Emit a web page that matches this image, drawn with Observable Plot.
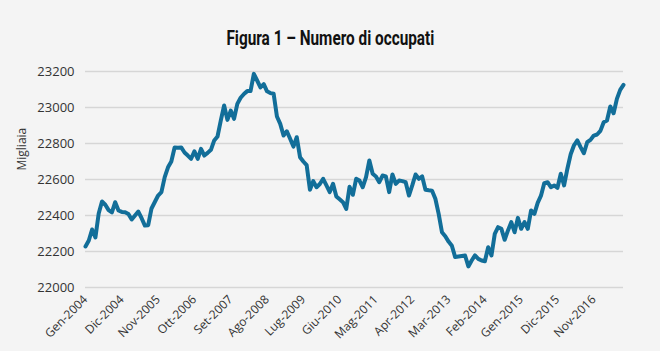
<!DOCTYPE html>
<html>
<head>
<meta charset="utf-8">
<script src="https://cdn.jsdelivr.net/npm/d3@7"></script>
<script src="https://cdn.jsdelivr.net/npm/@observablehq/plot@0.6"></script>
<style>
  html, body { margin: 0; padding: 0; background: #f4f4f4; }
  #wrap { position: relative; width: 660px; height: 351px; background: #f4f4f4; overflow: hidden; }
  #title { position: absolute; left: 0; top: 26px; width: 660px; text-align: center; height: 24px; }
  #title span { display: inline-block; font-family: Roboto, "DejaVu Sans", sans-serif; font-weight: 700; font-size: 21px; line-height: 24px; color: #111; transform: scaleX(0.73); transform-origin: center; white-space: nowrap; }
  #chart { position: absolute; left: 0; top: 50px; }
</style>
</head>
<body>
<div id="wrap">
  <div id="title"><span>Figura 1 – Numero di occupati</span></div>
  <div id="chart"></div>
</div>
<script>
const monthNames = ["Gen","Feb","Mar","Apr","Mag","Giu","Lug","Ago","Set","Ott","Nov","Dic"];
const startYear = 2004;
const occupati = [
  22228, 22261, 22322, 22278, 22411, 22478, 22460, 22430, 22417, 22474,
  22428, 22420, 22418, 22408, 22378, 22400, 22422, 22385, 22344, 22346,
  22439, 22475, 22511, 22530, 22613, 22668, 22700, 22778, 22776, 22778,
  22750, 22733, 22715, 22757, 22715, 22770, 22733, 22748, 22765, 22817,
  22839, 22928, 23011, 22931, 22983, 22937, 23020, 23054, 23075, 23091,
  23091, 23187, 23150, 23112, 23130, 23090, 23080, 23076, 22950, 22909,
  22844, 22868, 22826, 22783, 22835, 22724, 22700, 22680, 22543, 22591,
  22557, 22575, 22604, 22567, 22530, 22576, 22506, 22490, 22474, 22437,
  22560, 22515, 22604, 22594, 22557, 22613, 22706, 22632, 22617, 22585,
  22622, 22617, 22530, 22628, 22576, 22594, 22591, 22585, 22511, 22567,
  22628, 22604, 22617, 22543, 22540, 22538, 22493, 22409, 22307, 22285,
  22255, 22232, 22169, 22172, 22175, 22178, 22117, 22150, 22178, 22159,
  22150, 22146, 22224, 22178, 22298, 22335, 22326, 22265, 22317, 22363,
  22307, 22387, 22326, 22363, 22326, 22428, 22409, 22470, 22510, 22580,
  22585, 22557, 22567, 22554, 22632, 22567, 22660, 22740, 22790, 22817,
  22780, 22746, 22807, 22820, 22844, 22850, 22870, 22918, 22928, 23006,
  22968, 23048, 23098, 23126
];
const months = occupati.map((_, i) => monthNames[i % 12] + "-" + (startYear + Math.floor(i / 12)));
const xTickLabels = ["Gen-2004","Dic-2004","Nov-2005","Ott-2006","Set-2007","Ago-2008","Lug-2009","Giu-2010","Mag-2011","Apr-2012","Mar-2013","Feb-2014","Gen-2015","Dic-2015","Nov-2016"];
const yTicks = [22000, 22200, 22400, 22600, 22800, 23000, 23200];
const yLabel = "Migliaia";

const data = months.map((m, i) => ({mese: m, valore: occupati[i]}));

const chart = Plot.plot({
  width: 660,
  height: 301,
  marginLeft: 85,
  marginRight: 37,
  marginTop: 21,
  marginBottom: 64,
  style: {background: "#f4f4f4", fontFamily: "'Open Sans', sans-serif", fontSize: "13px", color: "#333"},
  x: {type: "point", domain: months, padding: 0},
  y: {domain: [22000, 23200]},
  marks: [
    Plot.ruleY(yTicks, {stroke: "#d6d6d6", strokeWidth: 1.5}),
    Plot.axisY(yTicks, {tickSize: 0, tickPadding: 11, tickFormat: d => String(d), label: null, fontSize: 13, fill: "#333"}),
    Plot.axisX(xTickLabels, {tickSize: 0, tickPadding: 10, tickRotate: -45, label: null, fontSize: 12, fill: "#333"}),
    Plot.text([yLabel], {frameAnchor: "left", dx: -63, dy: -9, rotate: -90, fontSize: 12, fill: "#333"}),
    Plot.line(data, {x: "mese", y: "valore", stroke: "#126e99", strokeWidth: 4, strokeLinejoin: "round", strokeLinecap: "round"})
  ]
});
document.getElementById("chart").appendChild(chart);
</script>
</body>
</html>
